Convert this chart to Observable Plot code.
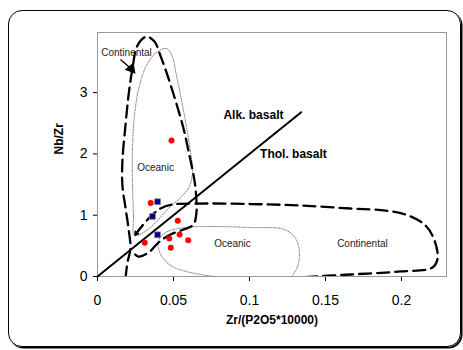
<!DOCTYPE html>
<html>
<head>
<meta charset="utf-8">
<script src="https://cdn.jsdelivr.net/npm/d3@7"></script>
<script src="https://cdn.jsdelivr.net/npm/@observablehq/plot@0.6"></script>
<style>
  html, body { margin: 0; padding: 0; background: #fff; }
  #wrap { position: relative; width: 463px; height: 350px; overflow: hidden; }
  #outer { position: absolute; left: 8px; top: 10px; width: 451px; height: 335px;
           border: 1px solid #000; border-radius: 14px; box-shadow: 1.5px 1.5px 0 #000; }
  #chart { position: absolute; left: 0; top: 0; }
</style>
</head>
<body>
<div id="wrap"><div id="outer"></div><div id="chart"></div></div>
<script>
// ---- data ----
const xTicks = [0, 0.05, 0.1, 0.15, 0.2];
const xTickLabels = ["0", "0.05", "0.1", "0.15", "0.2"];
const yTicks = [0, 1, 2, 3];
const yTickLabels = ["0", "1", "2", "3"];
const xTitle = "Zr/(P2O5*10000)";
const yTitle = "Nb/Zr";

// samples: red circles
const redX = [0.0487, 0.0350, 0.0528, 0.0311, 0.0472, 0.0540, 0.0597, 0.0482];
const redY = [2.22, 1.20, 0.91, 0.55, 0.62, 0.685, 0.59, 0.47];
// samples: blue squares
const blueX = [0.0395, 0.0362, 0.0395];
const blueY = [1.22, 0.98, 0.68];

// alkaline / tholeiitic divider
const dividerX = [0, 0.134];
const dividerY = [0, 2.68];

// continental field (tall, dashed)
const contTall = [[0.0184,-0.033],[0.0197,0.228],[0.0217,0.457],[0.0204,0.783],[0.0184,1.125],[0.0164,1.484],[0.0164,1.891],[0.0184,2.462],[0.0204,2.951],[0.0230,3.392],[0.0263,3.767],[0.0322,3.913],[0.0375,3.832],[0.0414,3.603],[0.0461,3.277],[0.0513,2.870],[0.0566,2.413],[0.0605,1.973],[0.0638,1.565],[0.0651,1.239],[0.0651,1.044],[0.0632,0.848],[0.0566,0.766],[0.0480,0.685],[0.0401,0.554],[0.0336,0.391],[0.0270,0.326],[0.0224,0.424]];
// continental field (horizontal, dashed)
const contFlat = [[0.0250,0.685],[0.0296,0.832],[0.0349,0.978],[0.0414,1.109],[0.0493,1.174],[0.0651,1.190],[0.1007,1.182],[0.1336,1.158],[0.1664,1.109],[0.1895,1.076],[0.2046,0.995],[0.2158,0.832],[0.2217,0.587],[0.2237,0.293],[0.2204,0.147],[0.1993,0.082],[0.1664,0.033],[0.1336,-0.016],[0.1224,-0.049]];
// oceanic field (tall, dotted, closed)
const oceTall = [[0.0243,0.669],[0.0237,0.995],[0.0230,1.565],[0.0230,2.054],[0.0243,2.625],[0.0276,3.114],[0.0329,3.473],[0.0395,3.669],[0.0454,3.718],[0.0487,3.620],[0.0526,3.196],[0.0566,2.707],[0.0605,2.136],[0.0625,1.728],[0.0605,1.468],[0.0546,1.288],[0.0467,1.109],[0.0382,0.880],[0.0303,0.717]];
// oceanic field (horizontal, dotted)
const oceFlat = [[0.1270,-0.033],[0.1316,0.163],[0.1329,0.391],[0.1303,0.620],[0.1230,0.766],[0.1007,0.799],[0.0743,0.815],[0.0579,0.799],[0.0447,0.717],[0.0401,0.587],[0.0401,0.457],[0.0428,0.310],[0.0493,0.163],[0.0612,0.065],[0.0776,0.0],[0.0941,-0.033]];

// field labels
const fieldLabelText = ["Continental", "Oceanic", "Oceanic", "Continental"];
const fieldLabelX = [0.0191, 0.0382, 0.0888, 0.1743];
const fieldLabelY = [3.652, 1.777, 0.538, 0.538];
const seriesLabelText = ["Alk. basalt", "Thol. basalt"];
const seriesLabelX = [0.1026, 0.1289];
const seriesLabelY = [2.625, 1.989];
// pointer arrow for top "Continental"
const arrowFrom = [0.0151, 3.538];
const arrowTo = [0.0222, 3.39];
// small arrowhead at the left end of the horizontal continental field
const innerArrowFrom = [0.0290, 0.815];
const innerArrowTo = [0.0248, 0.68];

// ---- build ----
const red = redX.map((x, i) => ({x, y: redY[i]}));
const blue = blueX.map((x, i) => ({x, y: blueY[i]}));
const divider = dividerX.map((x, i) => ({x, y: dividerY[i]}));
const fieldLabels = fieldLabelText.map((t, i) => ({t, x: fieldLabelX[i], y: fieldLabelY[i]}));
const seriesLabels = seriesLabelText.map((t, i) => ({t, x: seriesLabelX[i], y: seriesLabelY[i]}));
const px = d => d[0], py = d => d[1];
const font = "Liberation Sans, Arial, sans-serif";

const chart = Plot.plot({
  width: 463, height: 350,
  marginLeft: 97, marginRight: 17, marginTop: 32, marginBottom: 74,
  style: {fontFamily: font, fontSize: "14px", background: "transparent", color: "#000", overflow: "visible"},
  x: {domain: [0, 0.2296], ticks: xTicks, tickFormat: d => xTickLabels[xTicks.indexOf(d)], tickSize: 5, tickPadding: 14, label: null, line: true},
  y: {domain: [0, 3.98], ticks: yTicks, tickFormat: d => yTickLabels[yTicks.indexOf(d)], tickSize: 4, tickPadding: 6, label: null, line: true},
  marks: [
    Plot.frame({stroke: "#999", strokeWidth: 1}),
    Plot.line(oceTall, {x: px, y: py, curve: "catmull-rom-closed", stroke: "#555", strokeWidth: 0.8, strokeDasharray: "1,1.5", clip: true}),
    Plot.line(oceFlat, {x: px, y: py, curve: "catmull-rom", stroke: "#555", strokeWidth: 0.8, strokeDasharray: "1,1.5", clip: true}),
    Plot.line(contTall, {x: px, y: py, curve: "catmull-rom", stroke: "#000", strokeWidth: 2.3, strokeDasharray: "12,6", clip: true}),
    Plot.line(contFlat, {x: px, y: py, curve: "catmull-rom", stroke: "#000", strokeWidth: 2.3, strokeDasharray: "12,6", clip: true}),
    Plot.arrow([{x1: innerArrowFrom[0], y1: innerArrowFrom[1], x2: innerArrowTo[0], y2: innerArrowTo[1]}], {x1: "x1", y1: "y1", x2: "x2", y2: "y2", stroke: "#000", strokeWidth: 1.6, headLength: 6, headAngle: 70}),
    Plot.line(divider, {x: "x", y: "y", stroke: "#000", strokeWidth: 2}),
    Plot.link([{x1: arrowFrom[0], y1: arrowFrom[1], x2: arrowTo[0], y2: arrowTo[1]}], {x1: "x1", y1: "y1", x2: "x2", y2: "y2", stroke: "#000", strokeWidth: 1.3}),
    Plot.dot([{x: arrowTo[0], y: arrowTo[1]}], {x: "x", y: "y", symbol: "triangle2", r: 5.5, fill: "#000", rotate: 140}),
    Plot.text(fieldLabels, {x: "x", y: "y", text: "t", fontSize: 10, fill: "#222", fontFamily: font}),
    Plot.text(seriesLabels, {x: "x", y: "y", text: "t", fontSize: 12, fontWeight: "bold", fill: "#000", fontFamily: font}),
    Plot.dot(red, {x: "x", y: "y", r: 3, fill: "#ff0000", stroke: "none"}),
    Plot.dot(blue, {x: "x", y: "y", r: 3.3, symbol: "square", fill: "#000080", stroke: "#8a8aa0", strokeWidth: 0.7}),
    Plot.text([xTitle], {frameAnchor: "bottom", text: d => d, dy: 47, fontSize: 12, fontWeight: "bold", fontFamily: font}),
    Plot.text([yTitle], {frameAnchor: "left", text: d => d, dx: -38, rotate: -90, fontSize: 12, fontWeight: "bold", fontFamily: font})
  ]
});
document.getElementById("chart").appendChild(chart);
</script>
</body>
</html>
